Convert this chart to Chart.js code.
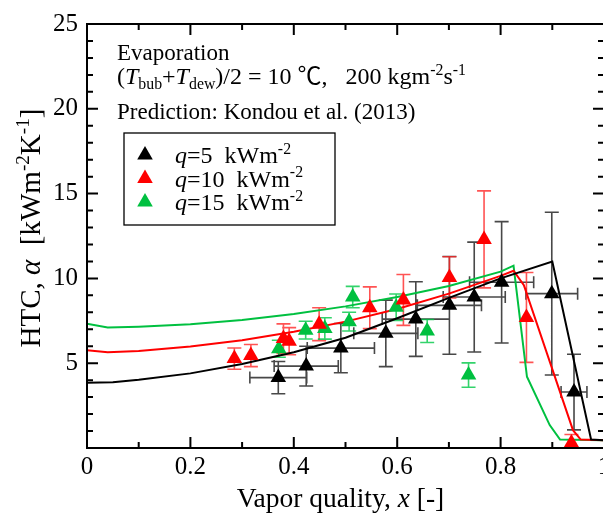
<!DOCTYPE html>
<html>
<head>
<meta charset="utf-8">
<script src="https://cdn.jsdelivr.net/npm/chart.js@4.4.0/dist/chart.umd.min.js"></script>
<style>
  html, body { margin: 0; padding: 0; background: #fff; overflow: hidden; }
  #wrap { width: 620px; height: 519px; }
</style>
</head>
<body>
<div id="wrap"><canvas id="htc" width="620" height="519"></canvas></div>
<script>
// measured HTC, q = 5 kW/m2 (with quality error bars)
const q5X = [0.370, 0.424, 0.491, 0.578, 0.636, 0.701, 0.749, 0.802, 0.899, 0.942];
const q5Y = [4.15, 4.83, 5.89, 6.76, 7.6, 8.41, 8.9, 9.77, 9.1, 3.3];
const q5YErr = [0.95, 1.17, 1.45, 1.96, 2.2, 2.88, 3.24, 3.58, 4.8, 2.23];
const q5XErr = [0.055, 0.062, 0.065, 0.062, 0.065, 0.062, 0.06, 0.062, 0.05, 0.025];

// q = 10 kW/m2
const q10X = [0.285, 0.317, 0.380, 0.391, 0.449, 0.547, 0.612, 0.701, 0.768, 0.850, 0.937];
const q10Y = [5.27, 5.45, 6.45, 6.3, 7.3, 8.27, 8.73, 10.06, 12.3, 7.7, 0.3];
const q10YErr = [0.63, 0.65, 0.87, 0.8, 0.97, 1.23, 1.5, 1.22, 2.86, 2.65, 0.5];

// q = 15 kW/m2
const q15X = [0.371, 0.423, 0.460, 0.507, 0.514, 0.598, 0.658, 0.738];
const q15Y = [5.85, 6.95, 7.05, 7.45, 8.9, 8.3, 6.9, 4.3];
const q15YErr = [0.5, 0.52, 0.63, 0.55, 0.63, 0.78, 0.68, 0.72];

// Kondou et al. (2013) predictions
const predQ5X = [0, 0.05, 0.1, 0.2, 0.3, 0.4, 0.5, 0.6, 0.7, 0.8, 0.9, 0.975, 1.0];
const predQ5Y = [3.85, 3.88, 4.02, 4.4, 4.95, 5.65, 6.5, 7.65, 8.85, 10.0, 11.0, 0.5, 0.45];
const predQ10X = [0, 0.04, 0.1, 0.2, 0.3, 0.4, 0.5, 0.6, 0.7, 0.8, 0.825, 0.845, 0.94, 0.955, 1.0];
const predQ10Y = [5.76, 5.64, 5.72, 5.98, 6.35, 6.85, 7.45, 8.2, 9.1, 10.15, 10.45, 9.6, 1.05, 0.5, 0.45];
const predQ15X = [0, 0.04, 0.1, 0.2, 0.3, 0.4, 0.5, 0.6, 0.7, 0.8, 0.825, 0.851, 0.895, 0.915, 1.0];
const predQ15Y = [7.33, 7.1, 7.15, 7.3, 7.55, 7.9, 8.35, 8.9, 9.55, 10.4, 10.75, 4.2, 1.35, 0.5, 0.45];

const xTickVals = [0, 0.2, 0.4, 0.6, 0.8, 1.0];
const xTickLabels = ['0', '0.2', '0.4', '0.6', '0.8', '1'];
const yTickVals = [0, 5, 10, 15, 20, 25];
const yTickLabels = ['', '5', '10', '15', '20', '25'];

const legendLabels = [
  [['q', 'i'], ['=5  kWm'], ['-2', 'sup']],
  [['q', 'i'], ['=10  kWm'], ['-2', 'sup']],
  [['q', 'i'], ['=15  kWm'], ['-2', 'sup']],
];
const yTitle = [['HTC, '], ['\u03b1', 'i'], ['  [kWm'], ['-2', 'sup'], ['K'], ['-1', 'sup'], [']']];
const xTitle = [['Vapor quality, '], ['x', 'i'], [' [-]']];
const noteLines = [
  [['Evaporation']],
  [['('], ['T', 'i'], ['bub', 'sub'], ['+'], ['T', 'i'], ['dew', 'sub'], [')/2 = 10 \u2103,   200 kgm'], ['-2', 'sup'], ['s'], ['-1', 'sup']],
  [['Prediction: Kondou et al. (2013)']],
];

const BLACK = '#000000', RED = '#ff0000', GREEN = '#00c040';
const FONT = '"Liberation Serif", "Times New Roman", "Noto Sans CJK JP", serif';

const pts = (xs, ys) => xs.map((v, i) => ({ x: v, y: ys[i] }));

function segFont(seg, size) {
  const small = seg[1] === 'sup' || seg[1] === 'sub';
  return (seg[1] === 'i' ? 'italic ' : '') + (small ? size * 0.66 : size) + 'px ' + FONT;
}

function richWidth(ctx, segs, size) {
  let w = 0;
  segs.forEach(s => { ctx.font = segFont(s, size); w += ctx.measureText(s[0]).width; });
  return w;
}

function drawRich(ctx, x, y, segs, size) {
  let cx = x;
  segs.forEach(s => {
    ctx.font = segFont(s, size);
    const dy = s[1] === 'sup' ? -size * 0.38 : s[1] === 'sub' ? size * 0.2 : 0;
    ctx.fillText(s[0], cx, y + dy);
    cx += ctx.measureText(s[0]).width;
  });
}

const series = [
  { x: q5X, y: q5Y, yErr: q5YErr, xErr: q5XErr, bar: 'rgba(40,40,40,0.85)' },
  { x: q10X, y: q10Y, yErr: q10YErr, bar: 'rgba(255,40,40,0.8)' },
  { x: q15X, y: q15Y, yErr: q15YErr, bar: 'rgba(0,200,70,0.8)' },
];

const errorBars = {
  id: 'errorBars',
  beforeDatasetsDraw(chart) {
    const { ctx, chartArea: a, scales: { x, y } } = chart;
    ctx.save();
    ctx.beginPath();
    ctx.rect(a.left, a.top, a.right - a.left, a.bottom - a.top);
    ctx.clip();
    ctx.lineWidth = 1.6;
    series.forEach(s => {
      ctx.strokeStyle = s.bar;
      ctx.beginPath();
      s.x.forEach((xv, i) => {
        const px = x.getPixelForValue(xv);
        const py = y.getPixelForValue(s.y[i]);
        const top = y.getPixelForValue(s.y[i] + s.yErr[i]);
        const bot = y.getPixelForValue(s.y[i] - s.yErr[i]);
        ctx.moveTo(px, top); ctx.lineTo(px, bot);
        ctx.moveTo(px - 7, top); ctx.lineTo(px + 7, top);
        ctx.moveTo(px - 7, bot); ctx.lineTo(px + 7, bot);
        if (s.xErr) {
          const l = x.getPixelForValue(xv - s.xErr[i]);
          const r = x.getPixelForValue(xv + s.xErr[i]);
          ctx.moveTo(l, py); ctx.lineTo(r, py);
          ctx.moveTo(l, py - 6); ctx.lineTo(l, py + 6);
          ctx.moveTo(r, py - 6); ctx.lineTo(r, py + 6);
        }
      });
      ctx.stroke();
    });
    ctx.restore();
  }
};

const frameTicks = {
  id: 'frameTicks',
  afterDraw(chart) {
    const { ctx, chartArea: a, scales: { x, y } } = chart;
    ctx.save();
    ctx.strokeStyle = '#000';
    ctx.lineWidth = 2;
    ctx.strokeRect(a.left, a.top, a.right - a.left, a.bottom - a.top);
    ctx.beginPath();
    for (let v = 1; v < 10; v++) {
      const px = x.getPixelForValue(v / 10);
      const len = v % 2 === 0 ? 11 : 6;
      ctx.moveTo(px, a.bottom); ctx.lineTo(px, a.bottom - len);
      ctx.moveTo(px, a.top); ctx.lineTo(px, a.top + len);
    }
    for (let v = 1; v < 25; v++) {
      const py = y.getPixelForValue(v);
      const len = v % 5 === 0 ? 11 : 6;
      ctx.moveTo(a.left, py); ctx.lineTo(a.left + len, py);
      ctx.moveTo(a.right, py); ctx.lineTo(a.right - len, py);
    }
    ctx.stroke();
    ctx.restore();
  }
};

const texts = {
  id: 'texts',
  afterDraw(chart) {
    const { ctx, chartArea: a } = chart;
    ctx.save();
    ctx.fillStyle = '#000';
    ctx.textBaseline = 'alphabetic';
    ctx.textAlign = 'left';

    drawRich(ctx, 117, 60, noteLines[0], 23);
    drawRich(ctx, 117, 84, noteLines[1], 24);
    drawRich(ctx, 117, 119, noteLines[2], 23);

    // legend box
    ctx.lineWidth = 1.3;
    ctx.strokeStyle = '#000';
    ctx.strokeRect(124, 133, 211, 92);
    [BLACK, RED, GREEN].forEach((c, i) => {
      ctx.fillStyle = c;
      Chart.helpers.drawPoint(ctx, { pointStyle: 'triangle', radius: 9, rotation: 0, borderWidth: 0 }, 145, 155 + i * 23.5);
      ctx.fillStyle = '#000';
      drawRich(ctx, 175, 163 + i * 23.5, legendLabels[i], 24);
    });

    // axis titles
    const xw = richWidth(ctx, xTitle, 27.5);
    drawRich(ctx, (a.left + a.right) / 2 - xw / 2 - 5, 507, xTitle, 27.5);

    const yw = richWidth(ctx, yTitle, 29);
    ctx.translate(40, 228);
    ctx.rotate(-Math.PI / 2);
    drawRich(ctx, -yw / 2, 0, yTitle, 29);
    ctx.restore();
  }
};

const tickFont = { family: FONT, size: 25 };

new Chart(document.getElementById('htc'), {
  type: 'scatter',
  data: {
    datasets: [
      { data: pts(q5X, q5Y), backgroundColor: BLACK, borderColor: BLACK, pointStyle: 'triangle', pointRadius: 9, borderWidth: 0, clip: 0 },
      { data: pts(q10X, q10Y), backgroundColor: RED, borderColor: RED, pointStyle: 'triangle', pointRadius: 9, borderWidth: 0, clip: 0 },
      { data: pts(q15X, q15Y), backgroundColor: GREEN, borderColor: GREEN, pointStyle: 'triangle', pointRadius: 9, borderWidth: 0, clip: 0 },
      { data: pts(predQ5X, predQ5Y), showLine: true, borderColor: BLACK, borderWidth: 2, pointRadius: 0, tension: 0 },
      { data: pts(predQ10X, predQ10Y), showLine: true, borderColor: RED, borderWidth: 2, pointRadius: 0, tension: 0 },
      { data: pts(predQ15X, predQ15Y), showLine: true, borderColor: GREEN, borderWidth: 2, pointRadius: 0, tension: 0 },
    ]
  },
  options: {
    responsive: false,
    animation: false,
    events: [],
    layout: { padding: { top: 16, right: 16, left: 0, bottom: 0 } },
    plugins: { legend: { display: false }, tooltip: { enabled: false } },
    scales: {
      x: {
        type: 'linear', min: 0, max: 1,
        grid: { display: false, drawTicks: false },
        border: { display: false },
        afterBuildTicks: s => { s.ticks = xTickVals.map(v => ({ value: v })); },
        afterFit: s => { s.height = 71; },
        ticks: { padding: 4, color: '#000', font: tickFont, maxRotation: 0, autoSkip: false, callback: (v, i) => xTickLabels[i] }
      },
      y: {
        type: 'linear', min: 0, max: 25,
        grid: { display: false, drawTicks: false },
        border: { display: false },
        afterBuildTicks: s => { s.ticks = yTickVals.map(v => ({ value: v })); },
        afterFit: s => { s.width = 87; },
        ticks: { padding: 9, color: '#000', font: tickFont, autoSkip: false, callback: (v, i) => yTickLabels[i] }
      }
    }
  },
  plugins: [errorBars, frameTicks, texts]
});
</script>
</body>
</html>
